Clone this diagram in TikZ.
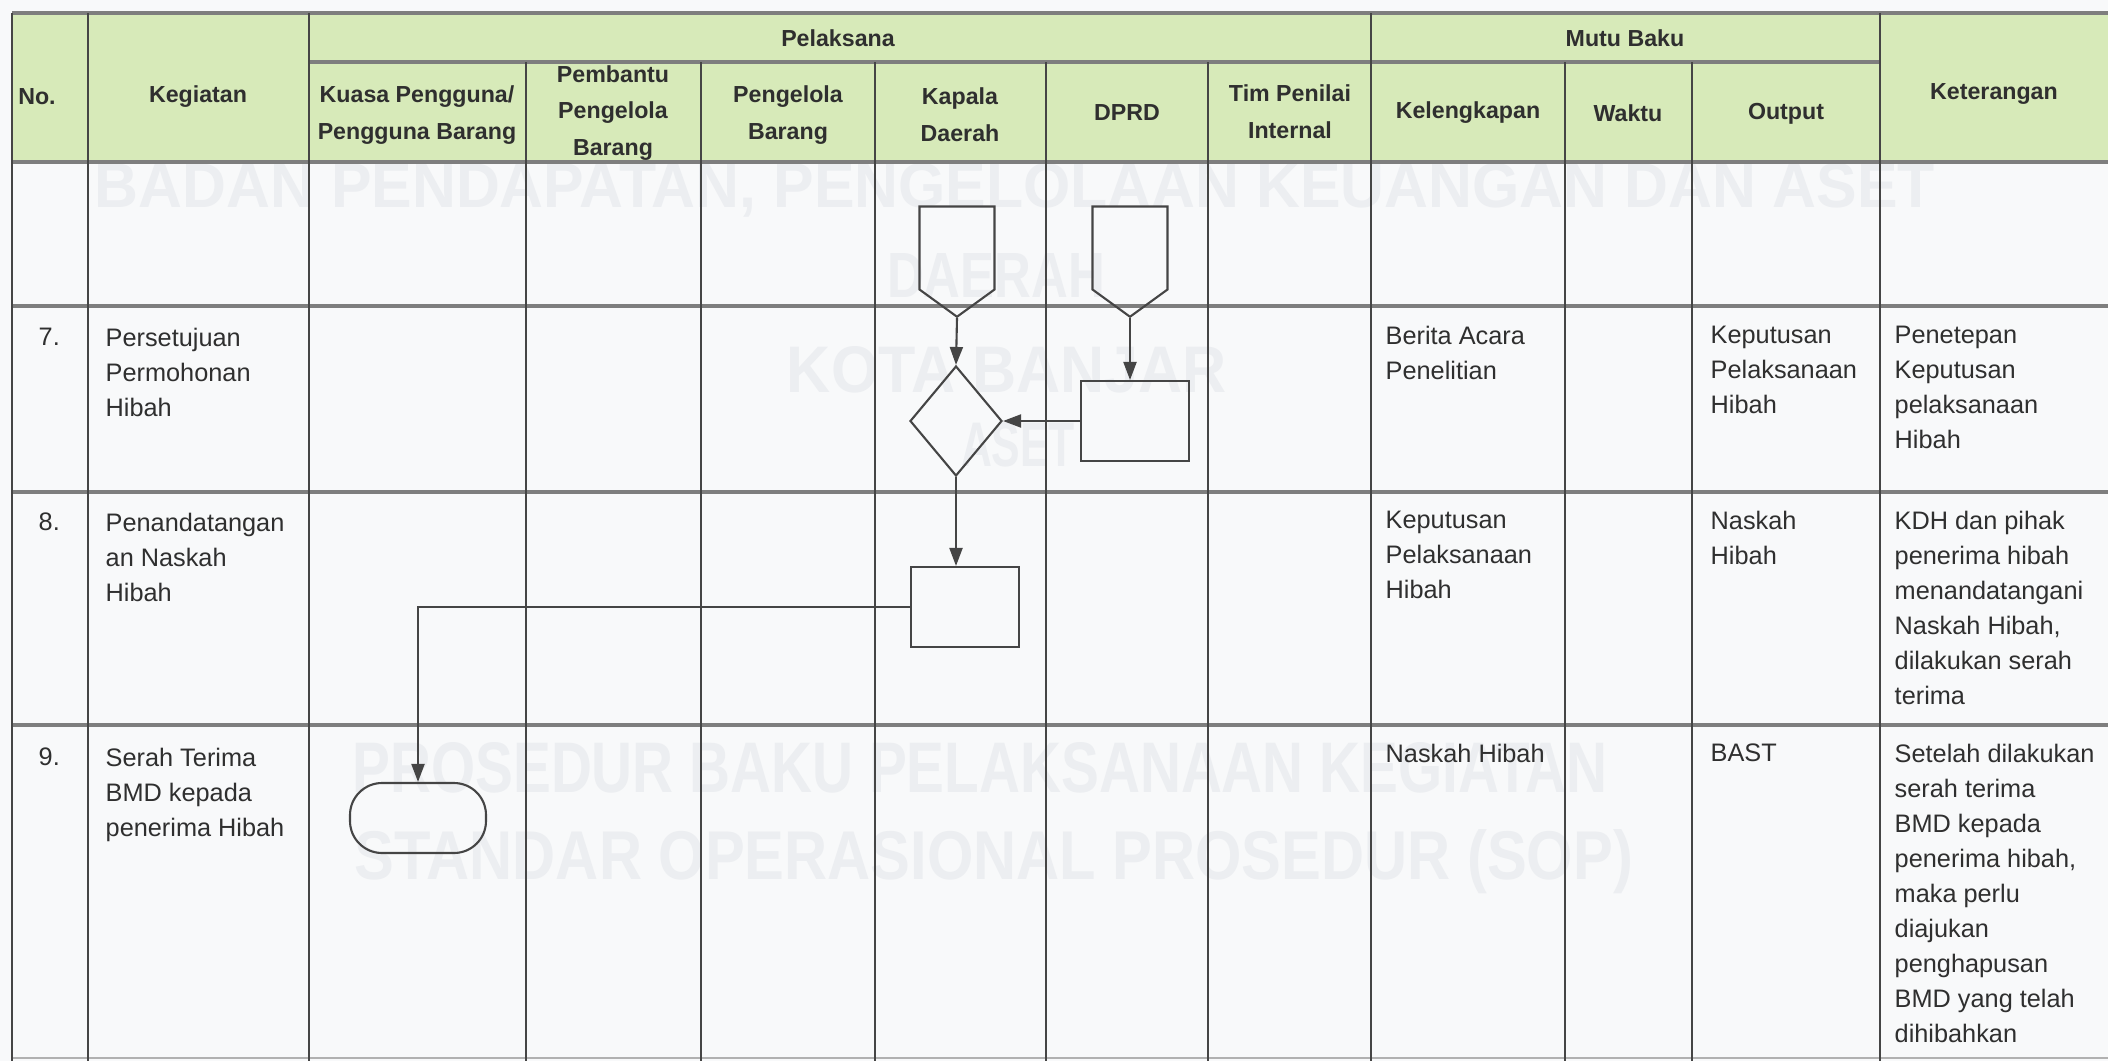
\documentclass[tikz,border=0pt]{standalone}
\usepackage{fontspec}
\setmainfont{Liberation Sans}
\usetikzlibrary{arrows.meta, shapes.geometric, shapes.symbols}
\definecolor{grid}   {HTML}{454545}
\definecolor{band}   {HTML}{D7EAB9}
\definecolor{rowline}{HTML}{7E7E7E}
\definecolor{paper}  {HTML}{F8F9FA}
\definecolor{ink}    {HTML}{2F2F2F}
\definecolor{mark}   {HTML}{ECEEF1}

\begin{document}
\begin{tikzpicture}[x=0.1mm, y=-0.1mm, font=\fontsize{7.2}{9.96}\selectfont, text=ink,
    hd/.style={font=\bfseries\fontsize{6.6}{10.5}\selectfont, align=center, inner sep=0pt},
    cell/.style={anchor=north west, align=left, inner sep=0pt},
    flow/.style={draw=grid, line width=0.6pt, inner sep=0pt},
    offpage/.style={flow, signal, signal to=south, signal pointer angle=108, minimum width=7.5mm, minimum height=8.3mm},
    arr/.style={-{Triangle[length=1.8mm, width=1.3mm]}, draw=grid, line width=0.6pt},
    wm/.style={text=mark, font=\bfseries, inner sep=0pt}]
      \useasboundingbox (0,0) rectangle (2108,1061);
      \fill[paper] (0,0) rectangle (2108,1061);
      \fill[band] (12,13) rectangle (2108,162);
      % watermark
      \node[wm] (wm1) at (1015,190) {\resizebox{184mm}{4.4mm}{BADAN PENDAPATAN, PENGELOLAAN KEUANGAN DAN ASET}};
      \node[wm] (wm2) at (996,275) {\resizebox{21.8mm}{4.4mm}{DAERAH}};
      \node[wm] (wm3) at (1007,370) {\resizebox{44mm}{4.6mm}{KOTA BANJAR}};
      \node[wm] (wm4) at (1018,445) {\resizebox{11.4mm}{4.4mm}{ASET}};
      \node[wm] (wm5) at (980,768) {\resizebox{125.5mm}{5mm}{PROSEDUR BAKU PELAKSANAAN KEGIATAN}};
      \node[wm] (wm6) at (994,862) {\resizebox{127.8mm}{5mm}{STANDAR OPERASIONAL PROSEDUR (SOP)}};
      % table lines
      \foreach \y in {13,162,306,492,725}
        \draw[rowline, line width=1.1pt] (12,\y) -- (2108,\y);
      \draw[rowline, line width=1.1pt] (309,62) -- (1880,62);
      \draw[rowline!60, line width=0.6pt] (12,1058) -- (2108,1058);
      \foreach \x in {12,88,309,1371,1880}
        \draw[grid, line width=0.55pt] (\x,13) -- (\x,1061);
      \foreach \x in {526,701,875,1046,1208,1565,1692}
        \draw[grid, line width=0.55pt] (\x,62) -- (\x,1061);
      % header
      \node[hd] (hno) at (37,97) {No.};
      \node[hd] (hkeg) at (198,97) {Kegiatan};
      \node[hd] (hpel) at (838,38) {Pelaksana};
      \node[hd] (hmutu) at (1625,38) {Mutu Baku};
      \node[hd] (hket) at (1994,94) {Keterangan};
      \node[hd] (hkuasa) at (417,115) {Kuasa Pengguna/\\Pengguna Barang};
      \node[hd] (hpemb) at (613,113) {Pembantu\\Pengelola\\Barang};
      \node[hd] (hpeng) at (788,115) {Pengelola\\Barang};
      \node[hd] (hkap) at (960,115) {Kapala\\Daerah};
      \node[hd] (hdprd) at (1127,113) {DPRD};
      \node[hd] (htim) at (1290,112) {Tim Penilai\\Internal};
      \node[hd] (hkel) at (1468,113) {Kelengkapan};
      \node[hd] (hwaktu) at (1628,113) {Waktu};
      \node[hd] (hout) at (1786,114) {Output};
      % row 7
      \node[cell] (no7) at (38,327) {7.};
      \node[cell] (keg7) at (105,327) {Persetujuan\\Permohonan\\Hibah};
      \node[cell] (kel7) at (1385,325) {Berita Acara\\Penelitian};
      \node[cell] (out7) at (1710,325) {Keputusan\\Pelaksanaan\\Hibah};
      \node[cell] (ket7) at (1894,325) {Penetepan\\Keputusan\\pelaksanaan\\Hibah};
      % row 8
      \node[cell] (no8) at (38,512) {8.};
      \node[cell] (keg8) at (105,512) {Penandatangan\\an Naskah\\Hibah};
      \node[cell] (kel8) at (1385,510) {Keputusan\\Pelaksanaan\\Hibah};
      \node[cell] (out8) at (1710,510) {Naskah\\Hibah};
      \node[cell] (ket8) at (1894,510) {KDH dan pihak\\penerima hibah\\menandatangani\\Naskah Hibah,\\dilakukan serah\\terima};
      % row 9
      \node[cell] (no9) at (38,747) {9.};
      \node[cell] (keg9) at (105,747) {Serah Terima\\BMD kepada\\penerima Hibah};
      \node[cell] (kel9) at (1385,743) {Naskah Hibah};
      \node[cell] (out9) at (1710,743) {BAST};
      \node[cell] (ket9) at (1894,743) {Setelah dilakukan\\serah terima\\BMD kepada\\penerima hibah,\\maka perlu\\diajukan\\penghapusan\\BMD yang telah\\dihibahkan};
      % flow
      \node[offpage] (kd) at (957,248) {};
      \node[offpage] (dprd) at (1130,248) {};
      \node[flow, diamond, minimum width=9.2mm, minimum height=11mm] (cek) at (956,421) {};
      \node[flow, minimum width=10.8mm, minimum height=8mm] (sk) at (1135,421) {};
      \node[flow, minimum width=10.8mm, minimum height=8mm] (ttd) at (965,607) {};
      \node[flow, rounded corners=3.2mm, minimum width=13.6mm, minimum height=7mm] (serah) at (418,818) {};
      \draw[arr] (kd.south) -- (cek.north);
      \draw[arr] (dprd.south) -- (dprd.south |- sk.north);
      \draw[arr] (sk.west) -- (cek.east);
      \draw[arr] (cek.south) -- (cek.south |- ttd.north);
      \draw[arr] (ttd.west) -| (serah.north);
\end{tikzpicture}
\end{document}
